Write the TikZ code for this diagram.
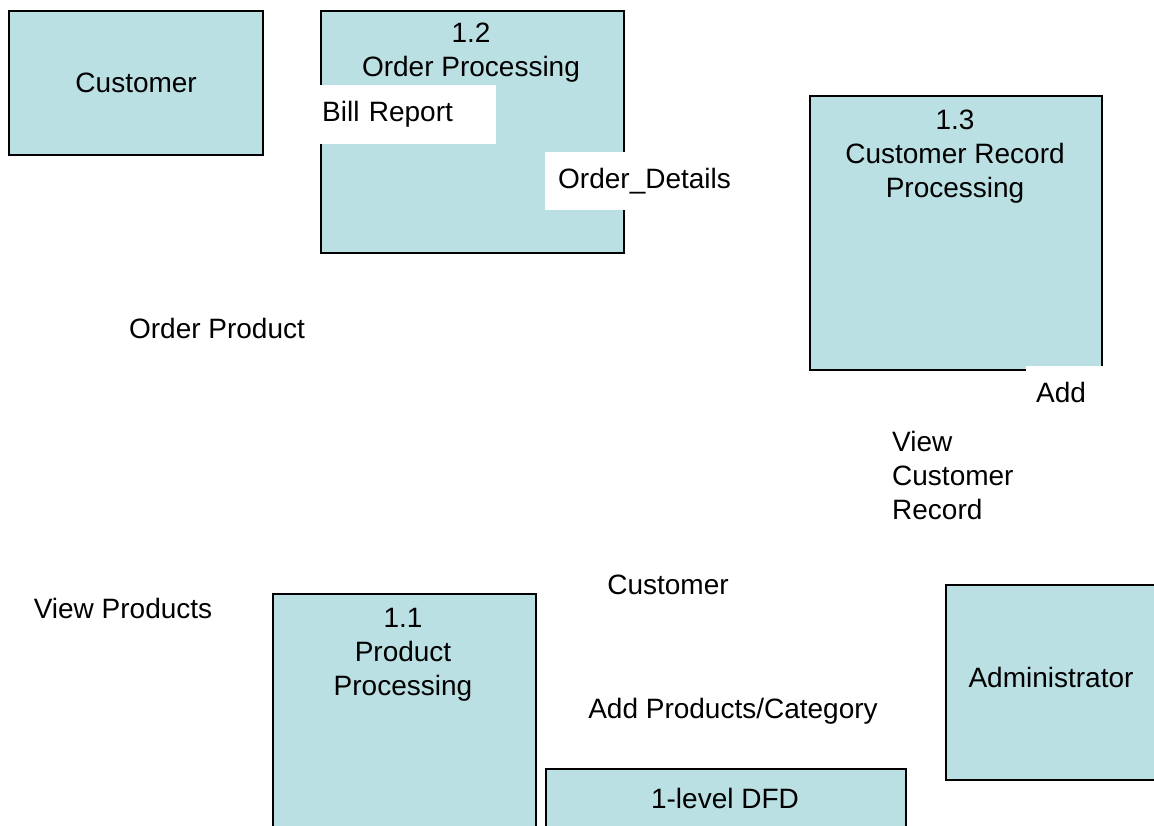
\documentclass[tikz,border=0pt]{standalone}
\usepackage{fontspec}
\setmainfont{Liberation Sans}
\usetikzlibrary{positioning}
\definecolor{dfdblue}{RGB}{187,224,227}
\tikzset{
  box/.style={draw=black, fill=dfdblue, line width=2.3pt, anchor=north west, inner sep=0pt},
  lbl/.style={font=\fontsize{28}{34}\selectfont, align=center, inner sep=0pt},
  blank/.style={fill=white, anchor=north west},
}

\begin{document}
\begin{tikzpicture}[x=1pt,y=-1pt]
        \useasboundingbox (0,0) rectangle (1154,826);
        \clip (0,0) rectangle (1154,826);

        \node[box, minimum width=254pt, minimum height=144pt] (customer) at (8,10) {};
        \node[box, minimum width=303pt, minimum height=242pt] (order) at (320,10) {};
        \node[box, minimum width=292pt, minimum height=274pt] (record) at (809,95) {};
        \node[box, minimum width=263pt, minimum height=265pt] (product) at (272,593) {};
        \node[box, minimum width=360pt, minimum height=100pt] (dfd) at (545,768) {};
        \node[box, minimum width=212pt, minimum height=195pt] (admin) at (945,584) {};

        \node[lbl] at (customer.center) {Customer};
        \node[lbl] (ordertext) at (471,53) {1.2\\Order Processing};
        \node[lbl] (recordtext) at (955,157) {1.3\\Customer Record\\Processing};
        \node[lbl] (producttext) at (403,655) {1.1\\Product\\Processing};
        \node[lbl] (dfdtext) at (725,798) {1-level DFD};
        \node[lbl] (admintext) at (1051,677) {Administrator};

        \node[blank, lbl, text width=170pt, align=left, minimum height=59pt, inner xsep=4pt] (bill) at (318,85) {Bill Report};
        \node[blank, lbl, minimum height=58pt, inner xsep=13pt] (details) at (545,152) {Order\_Details};
        \node[blank, lbl, text width=66pt, align=left, minimum height=52pt, inner xsep=10pt] (add) at (1026,366) {Add};

        \node[lbl] (orderproduct) at (217,328.5) {Order Product};
        \node[lbl, align=left, anchor=west] (viewrecord) at (892,475) {View\\Customer\\Record};
        \node[lbl] (viewproducts) at (123,608) {View Products};
        \node[lbl] (customerflow) at (668,585) {Customer};
        \node[lbl] (addproducts) at (733,711) {Add Products/Category};
    \end{tikzpicture}
\end{document}
